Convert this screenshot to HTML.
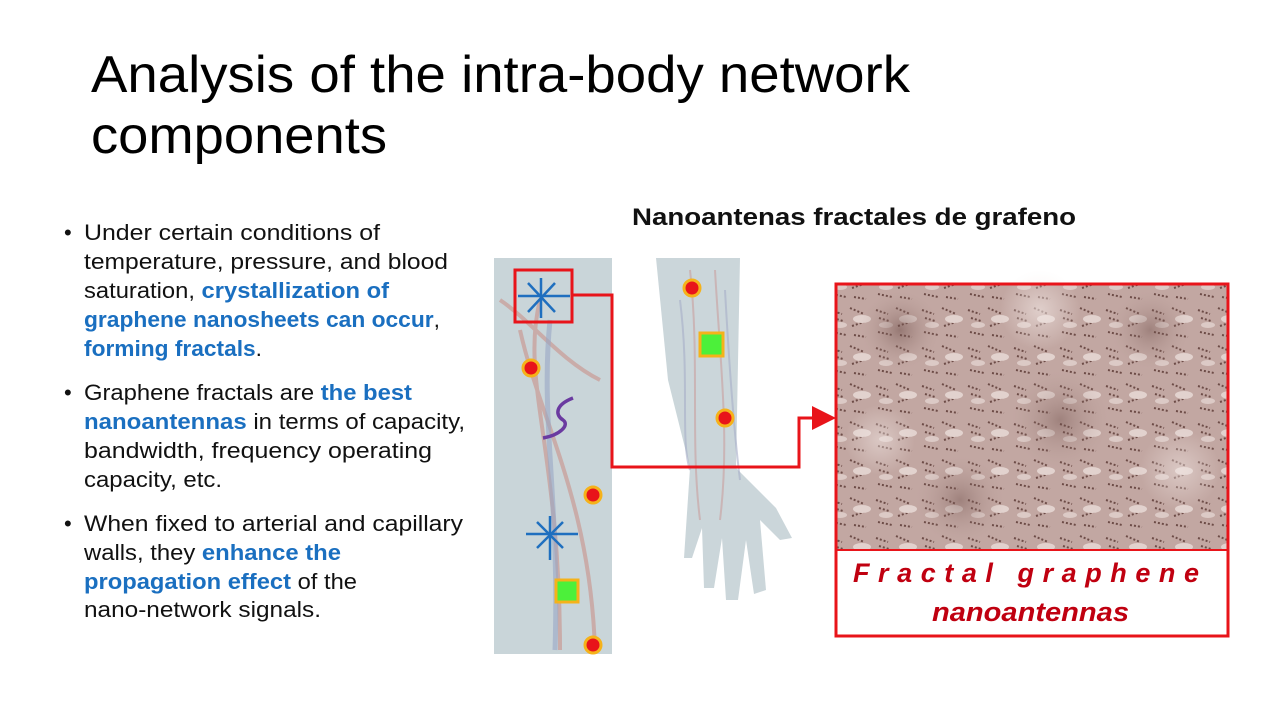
<!DOCTYPE html>
<html><head><meta charset="utf-8"><style>
body{margin:0;width:1269px;height:708px;background:#fff;position:relative;overflow:hidden;font-family:"Liberation Sans",Arial,sans-serif;}
</style></head><body>
<svg width="1269" height="708" style="position:absolute;left:0;top:0" font-family="Liberation Sans, Arial, sans-serif">
<defs>
<radialGradient id="g1"><stop offset="0" stop-color="#6a4a45"/><stop offset="1" stop-color="#b89d98" stop-opacity="0"/></radialGradient>
<radialGradient id="g2"><stop offset="0" stop-color="#f3e9e6"/><stop offset="1" stop-color="#f3e9e6" stop-opacity="0"/></radialGradient>
<pattern id="p" width="46" height="38" patternUnits="userSpaceOnUse">
<rect width="46" height="38" fill="#c2a7a2"/>
<path d="M2 6l12 4M5 14l10 3M22 4l14 6M24 22l12-4M4 28l14 3M26 31l12 2" stroke="#6d4c47" stroke-width="2" stroke-dasharray="2 2"/>
<ellipse cx="34" cy="15" rx="9" ry="4" fill="#e2d2ce"/>
<ellipse cx="12" cy="21" rx="7" ry="3" fill="#dccac6"/>
</pattern>
</defs>
<text x="91" y="92" font-size="52" textLength="819" lengthAdjust="spacingAndGlyphs">Analysis of the intra-body network</text>
<text x="91" y="153" font-size="52" textLength="296" lengthAdjust="spacingAndGlyphs">components</text>
<g font-size="22" fill="#111">
<text x="64" y="240">•</text><text x="64" y="400">•</text><text x="64" y="531">•</text>
<text x="84" y="240" textLength="296" lengthAdjust="spacingAndGlyphs">Under certain conditions of</text>
<text x="84" y="269" textLength="364" lengthAdjust="spacingAndGlyphs">temperature, pressure, and blood</text>
<text x="84" y="298" textLength="305" lengthAdjust="spacingAndGlyphs">saturation, <tspan fill="#1a6fc0" font-weight="bold">crystallization of</tspan></text>
<text x="84" y="327" textLength="356" lengthAdjust="spacingAndGlyphs"><tspan fill="#1a6fc0" font-weight="bold">graphene nanosheets can occur</tspan>,</text>
<text x="84" y="356" textLength="178" lengthAdjust="spacingAndGlyphs"><tspan fill="#1a6fc0" font-weight="bold">forming fractals</tspan>.</text>
<text x="84" y="400" textLength="328" lengthAdjust="spacingAndGlyphs">Graphene fractals are <tspan fill="#1a6fc0" font-weight="bold">the best</tspan></text>
<text x="84" y="429" textLength="381" lengthAdjust="spacingAndGlyphs"><tspan fill="#1a6fc0" font-weight="bold">nanoantennas</tspan> in terms of capacity,</text>
<text x="84" y="458" textLength="348" lengthAdjust="spacingAndGlyphs">bandwidth, frequency operating</text>
<text x="84" y="487" textLength="138" lengthAdjust="spacingAndGlyphs">capacity, etc.</text>
<text x="84" y="531" textLength="379" lengthAdjust="spacingAndGlyphs">When fixed to arterial and capillary</text>
<text x="84" y="560" textLength="257" lengthAdjust="spacingAndGlyphs">walls, they <tspan fill="#1a6fc0" font-weight="bold">enhance the</tspan></text>
<text x="84" y="589" textLength="273" lengthAdjust="spacingAndGlyphs"><tspan fill="#1a6fc0" font-weight="bold">propagation effect</tspan> of the</text>
<text x="84" y="617" textLength="237" lengthAdjust="spacingAndGlyphs">nano-network signals.</text>
</g>
<text x="632" y="225" font-size="24" font-weight="bold" fill="#111" textLength="444" lengthAdjust="spacingAndGlyphs">Nanoantenas fractales de grafeno</text>
<rect x="494" y="258" width="118" height="396" fill="#c9d5d9"/>
<path d="M656 258 L740 258 L736 468 L776 508 L792 538 L780 540 L760 520 L766 590 L754 594 L746 540 L738 600 L726 600 L722 538 L714 588 L704 588 L702 528 L692 558 L684 558 L690 468 L668 380 Z" fill="#cbd6da"/>
<path d="M540 300 C520 380 560 450 560 650 M520 330 C540 420 590 500 595 650 M500 300 C530 320 560 360 600 380" stroke="#c99a94" stroke-width="4" fill="none" opacity=".7"/>
<path d="M550 320 C540 420 560 500 555 650" stroke="#9aa6c4" stroke-width="5" fill="none" opacity=".6"/>
<path d="M690 270 C700 360 690 440 700 520 M715 270 C720 360 730 440 720 520" stroke="#c9a7a6" stroke-width="2" fill="none" opacity=".7"/>
<path d="M680 300 C690 380 680 440 690 470 M725 290 C730 380 735 440 740 480" stroke="#a7aec8" stroke-width="2" fill="none" opacity=".6"/>
<rect x="836" y="284" width="392" height="266" fill="url(#p)"/>
<circle cx="900" cy="330" r="40" fill="url(#g1)" opacity=".5"/>
<circle cx="1060" cy="420" r="50" fill="url(#g1)" opacity=".4"/>
<circle cx="1150" cy="330" r="40" fill="url(#g1)" opacity=".4"/>
<circle cx="960" cy="500" r="45" fill="url(#g1)" opacity=".4"/>
<circle cx="1040" cy="310" r="40" fill="url(#g2)" opacity=".6"/>
<circle cx="1180" cy="470" r="40" fill="url(#g2)" opacity=".5"/>
<circle cx="880" cy="440" r="35" fill="url(#g2)" opacity=".5"/>
<rect x="836" y="284" width="392" height="352" fill="none" stroke="#e8141a" stroke-width="3"/>
<line x1="836" y1="550" x2="1228" y2="550" stroke="#e8141a" stroke-width="2"/>
<rect x="515" y="270" width="57" height="52" fill="none" stroke="#e8141a" stroke-width="3"/>
<polyline points="572,295 612,295 612,467 799,467 799,418 815,418" fill="none" stroke="#e8141a" stroke-width="3"/>
<polygon points="812,406 836,418 812,430" fill="#e8141a"/>
<g stroke="#1f6fbf" stroke-width="2.5"><line x1="518" y1="296" x2="570" y2="296"/><line x1="541" y1="278" x2="541" y2="318"/><line x1="528" y1="283" x2="555" y2="312"/><line x1="528" y1="312" x2="555" y2="283"/>
<line x1="526" y1="534" x2="578" y2="534"/><line x1="550" y1="516" x2="550" y2="560"/><line x1="537" y1="522" x2="563" y2="548"/><line x1="537" y1="548" x2="563" y2="522"/></g>
<path d="M573 398 C555 405 555 415 563 420 C570 425 560 435 543 438" stroke="#6a3aa0" stroke-width="3.5" fill="none"/>
<g fill="#e8141a" stroke="#f5b21a" stroke-width="3"><circle cx="531" cy="368" r="8"/><circle cx="593" cy="495" r="8"/><circle cx="593" cy="645" r="8"/><circle cx="692" cy="288" r="8"/><circle cx="725" cy="418" r="8"/></g>
<g fill="#4cf03a" stroke="#f5b21a" stroke-width="3"><rect x="700" y="333" width="23" height="23"/><rect x="556" y="580" width="22" height="22"/></g>
<text x="853" y="582" font-size="27" font-weight="bold" font-style="italic" fill="#c00010" textLength="355" lengthAdjust="spacing" letter-spacing="9">Fractal graphene</text>
<text x="932" y="621" font-size="27" font-weight="bold" font-style="italic" fill="#c00010" textLength="197" lengthAdjust="spacingAndGlyphs">nanoantennas</text>
</svg>
</body></html>
